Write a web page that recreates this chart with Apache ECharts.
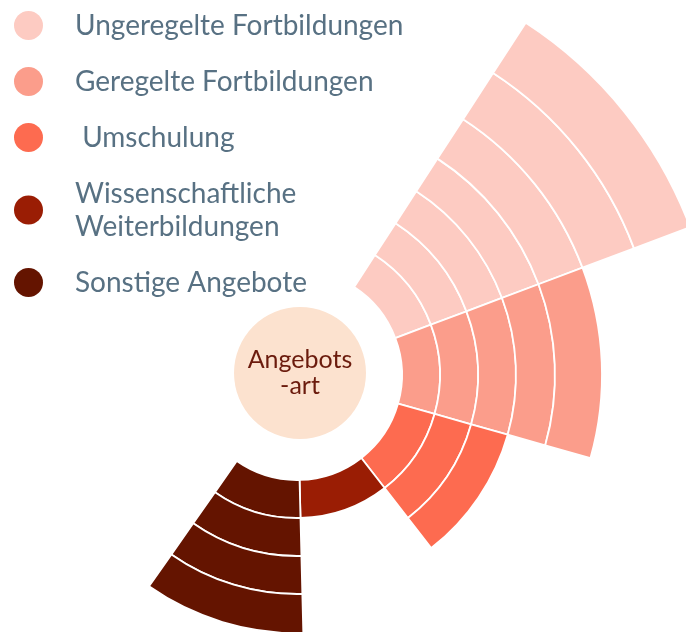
<!DOCTYPE html>
<html>
<head>
<meta charset="utf-8">
<script src="https://cdn.jsdelivr.net/npm/echarts@6/dist/echarts.min.js"></script>
<style>
  html, body { margin: 0; padding: 0; background: #fff; }
  #chart { width: 686px; height: 633px; }
</style>
</head>
<body>
<div id="chart"></div>
<script>
// Angebotsarten und Anzahl der Ringe je Sektor
var categories = ['Ungeregelte Fortbildungen', 'Geregelte Fortbildungen', 'Umschulung', 'Wissenschaftliche\nWeiterbildungen', 'Sonstige Angebote'];
var ringCounts = [7, 5, 3, 1, 4];
// Ringstärke je Ebene (von innen nach außen)
var ringWidths = [38, 38, 38, 39, 47, 55, 60];
var colors = ['#fdcbc2', '#fb9d8b', '#fd6b50', '#9a1d04', '#641400'];
var centerLabel = 'Angebots\n-art';

var chartDom = document.getElementById('chart');
var myChart = echarts.init(chartDom);
var option;

var series = [];
var level, c;
for (level = 0; level < ringWidths.length; level++) {
    var data = [];
    for (c = 0; c < categories.length; c++) {
        if (ringCounts[c] > level) {
            data.push({ value: ringWidths[level], itemStyle: { color: colors[c] } });
        } else {
            data.push('-');
        }
    }
    series.push({
        name: 'ring' + (level + 1),
        type: 'bar',
        coordinateSystem: 'polar',
        stack: 'rings',
        barCategoryGap: '0%',
        silent: true,
        itemStyle: { borderColor: '#fff', borderWidth: 1.8 },
        data: data
    });
}
// nur für die Legende (gleicher Stack, damit keine eigenen Balkenplätze entstehen)
for (c = 0; c < categories.length; c++) {
    series.push({
        name: categories[c],
        type: 'bar',
        coordinateSystem: 'polar',
        stack: 'rings',
        barCategoryGap: '0%',
        itemStyle: { color: colors[c] },
        data: []
    });
}
series.push({
    type: 'pie',
    center: [300, 373],
    radius: [0, 66],
    silent: true,
    label: {
        position: 'center',
        formatter: centerLabel,
        color: '#6b1b0d',
        fontFamily: 'Lato',
        fontSize: 25,
        lineHeight: 26
    },
    labelLine: { show: false },
    emphasis: { disabled: true },
    itemStyle: { color: '#fce2cf' },
    data: [{ value: 1, name: 'center' }]
});

option = {
    animation: false,
    legend: {
        data: categories,
        orient: 'vertical',
        left: 9,
        top: 4,
        icon: 'circle',
        itemWidth: 29,
        itemHeight: 29,
        itemGap: 23,
        selectedMode: false,
        formatter: function(name) {
            return name == 'Umschulung' ? ' ' + name : name;
        },
        textStyle: {
            fontFamily: 'Lato',
            fontSize: 28,
            lineHeight: 33,
            color: '#587183',
            padding: [0, 0, 0, 27]
        }
    },
    polar: {
        center: [297, 375],
        radius: [105, 420]
    },
    angleAxis: {
        type: 'category',
        data: categories,
        startAngle: 57,
        endAngle: -125,
        clockwise: true,
        show: false
    },
    radiusAxis: {
        type: 'value',
        min: 0,
        max: 315,
        show: false
    },
    series: series
};

option && myChart.setOption(option);
</script>
</body>
</html>
